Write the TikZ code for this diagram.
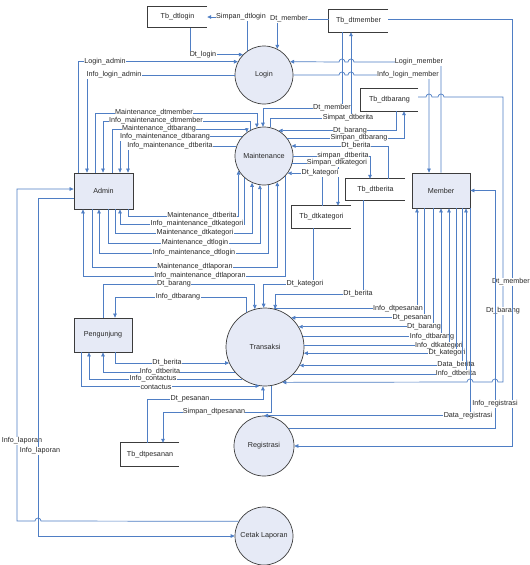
\documentclass[tikz,border=0pt]{standalone}
\usepackage{fontspec}
\setmainfont{Liberation Sans}
\usetikzlibrary{arrows.meta}
\definecolor{ln}{RGB}{79,126,196}
\definecolor{pf}{RGB}{230,234,246}
\definecolor{bd}{RGB}{60,60,60}
\definecolor{tx}{RGB}{40,40,40}
\newcommand{\lf}{\fontsize{7.2}{8}\selectfont}
\begin{document}
\begin{tikzpicture}[x=1pt,y=-1pt,
  flow/.style={draw=ln, line width=0.7pt, -{Triangle[length=4pt,width=3.6pt]}},
  lbl/.style={fill=white, inner sep=0.3pt, text=tx, font=\lf},
  proc/.style={circle, draw=bd, line width=0.7pt, fill=pf, minimum size=58pt, inner sep=0pt, text=tx, font=\lf},
  ent/.style={rectangle, draw=bd, line width=0.8pt, fill=pf, minimum width=59pt, minimum height=36pt, inner sep=0pt, text=tx, font=\lf},
  store/.style={rectangle, minimum width=59pt, minimum height=22pt, inner sep=0pt, text=tx, font=\lf},
  sline/.style={draw=bd, line width=0.8pt}]
\fill[white] (0,0) rectangle (530,565);
\useasboundingbox (0,0) rectangle (530,565);

% nodes
\node[store, minimum height=21pt] (TbL) at (177.5,17) {Tb\_dtlogin};
\node[store] (TbM) at (358.5,21) {Tb\_dtmember};
\node[proc] (Login) at (264,75) {Login};
\node[proc] (Maint) at (264,156) {Maintenance};
\node[ent] (Admin) at (103.5,191) {Admin};
\node[store, minimum width=57pt] (TbB) at (389.5,100) {Tb\_dtbarang};
\node[store, minimum height=21pt] (TbBe) at (375.5,189.5) {Tb\_dtberita};
\node[ent, minimum width=58pt, minimum height=35pt] (Member) at (441,190.5) {Member};
\node[store] (TbK) at (321.5,217) {Tb\_dtkategori};
\node[ent, minimum width=58pt, minimum height=34pt] (Peng) at (103,335) {Pengunjung};
\node[proc, minimum size=78pt] (Trans) at (265,347) {Transaksi};
\node[store, minimum width=58pt, minimum height=23pt] (TbP) at (150,454.5) {Tb\_dtpesanan};
\node[proc, minimum size=60pt] (Reg) at (264,446) {Registrasi};
\node[proc] (Cetak) at (264,536) {Cetak Laporan};

\foreach \s in {TbL,TbM,TbB,TbBe,TbK,TbP}
  \draw[sline] (\s.north east) -- (\s.north west) -- (\s.south west) -- (\s.south east);

% Login
\draw[flow] (Login.124) |- (TbL.east |- 0,17);
\node[lbl] at (241,17) {Simpan\_dtlogin};
\draw[flow] (TbL.south -| 190,0) |- (Login.136);
\node[lbl] at (203,55) {Dt\_login};
\draw[flow] (TbM.west |- 0,19) -| (Login.63);
\node[lbl] at (289,19) {Dt\_member};
\draw[flow] (Admin.north -| 78,0) |- (Login.153);
\node[lbl] at (105,62) {Login\_admin};
\draw[flow] (Login.west) -| (Admin.north -| 87,0);
\node[lbl] at (114,75) {Info\_login\_admin};
\draw[flow] (Member.north -| 441,0) -- (441,62) -- (354,62) arc[start angle=0,end angle=180,radius=3pt] -- (345,62) arc[start angle=0,end angle=180,radius=3pt] -- (Login.27);
\node[lbl] at (419,62) {Login\_member};
\draw[flow] (Login.east) -- (339,75) arc[start angle=180,end angle=0,radius=3pt] -- (348,75) arc[start angle=180,end angle=0,radius=3pt] -- (429,75) -- (Member.north -| 429,0);
\node[lbl] at (408,75) {Info\_login\_member};

% Tb_dtmember - Maintenance
\draw[flow] (TbM.south -| 342,0) -- (342,108) -| (Maint.92);
\node[lbl] at (332,108) {Dt\_member};
\draw[flow] (Maint.78) |- (351,118) -- (TbM.south -| 351,0);
\node[lbl] at (348,118) {Simpat\_dtberita};

% Tb_dtbarang - Maintenance
\draw[flow] (TbB.south -| 396,0) |- (Maint.60);
\node[lbl] at (350,131) {Dt\_barang};
\draw[flow] (Maint.38) -| (TbB.south -| 404,0);
\node[lbl] at (359,138) {Simpan\_dtbarang};

% Tb_dtberita - Maintenance
\draw[flow] (TbBe.north -| 388,0) |- (Maint.20);
\node[lbl] at (356,146) {Dt\_berita};
\draw[flow] (Maint.east) -| (TbBe.north -| 370,0);
\node[lbl] at (343,156) {simpan\_dtberita};

% Tb_dtkategori - Maintenance
\draw[flow] (Maint.-14) -| (TbK.north -| 338,0);
\node[lbl] at (337,163) {Simpan\_dtkategori};
\draw[flow] (TbK.north -| 322,0) |- (Maint.-36);
\node[lbl] at (320,173) {Dt\_kategori};

% Admin top - Maintenance
\draw[flow] (Admin.north -| 95,0) -- (95,113) -| (Maint.104);
\node[lbl] at (154,113) {Maintenance\_dtmember};
\draw[flow] (Maint.117) |- (103,121) -- (Admin.north -| 103,0);
\node[lbl] at (156,121) {Info\_maintenance\_dtmember};
\draw[flow] (Admin.north -| 112,0) -- (112,129) -| (Maint.126);
\node[lbl] at (159,129) {Maintenance\_dtbarang};
\draw[flow] (Maint.139) -| (Admin.north -| 120,0);
\node[lbl] at (165,137) {Info\_maintenance\_dtbarang};
\draw[flow] (Maint.160) -| (Admin.north -| 128,0);
\node[lbl] at (170,146) {Info\_maintenance\_dtberita};

% Admin bottom - Maintenance
\draw[flow] (Admin.south -| 128,0) -- (128,216) -| (Maint.210);
\node[lbl] at (202,216) {Maintenance\_dtberita};
\draw[flow] (Maint.229) |- (120,224) -- (Admin.south -| 120,0);
\node[lbl] at (197,224) {Info\_maintenance\_dtkategori};
\draw[flow] (Admin.south -| 115,0) -- (115,233) -| (Maint.246);
\node[lbl] at (195,233) {Maintenance\_dtkategori};
\draw[flow] (Admin.south -| 108,0) -- (108,243) -| (Maint.262);
\node[lbl] at (195,243) {Maintenance\_dtlogin};
\draw[flow] (Maint.278) |- (99,253) -- (Admin.south -| 99,0);
\node[lbl] at (194,253) {Info\_maintenance\_dtlogin};
\draw[flow] (Admin.south -| 92,0) -- (92,267) -| (Maint.297);
\node[lbl] at (195,267) {Maintenance\_dtlaporan};
\draw[flow] (Maint.316) |- (83,276) -- (Admin.south -| 83,0);
\node[lbl] at (200,276) {Info\_maintenance\_dtlaporan};

% Stores - Transaksi
\draw[flow] (TbK.south -| 313,0) -- (313,284) -| (Trans.92);
\node[lbl] at (305,284) {Dt\_kategori};
\draw[flow] (TbBe.south -| 363,0) -- (363,294) -| (Trans.75);
\node[lbl] at (358,294) {Dt\_berita};

% Pengunjung - Transaksi
\draw[flow] (Peng.north -| 103,0) -- (103,284) -| (Trans.105);
\node[lbl] at (174,284) {Dt\_barang};
\draw[flow] (Trans.118) |- (115,297) -- (Peng.north -| 115,0);
\node[lbl] at (178,297) {Info\_dtbarang};
\draw[flow] (Peng.south -| 115,0) |- (Trans.204);
\node[lbl] at (167,363) {Dt\_berita};
\draw[flow] (Trans.220) -| (Peng.south -| 103,0);
\node[lbl] at (160,372) {Info\_dtberita};
\draw[flow] (Trans.235) -| (Peng.south -| 89,0);
\node[lbl] at (153,379) {Info\_contactus};
\draw[flow] (Peng.south -| 81,0) |- (Trans.262);
\node[lbl] at (156,387) {contactus};

% Member - Transaksi
\draw[flow] (Trans.77) -| (Member.south -| 417,0);
\node[lbl] at (398,309) {Info\_dtpesanan};
\draw[flow] (Member.south -| 424,0) |- (Trans.48);
\node[lbl] at (412,318) {Dt\_pesanan};
\draw[flow] (Member.south -| 433,0) |- (Trans.31);
\node[lbl] at (424,327) {Dt\_barang};
\draw[flow] (Trans.15) -| (Member.south -| 441,0);
\node[lbl] at (432,337) {Info\_dtbarang};
\draw[flow] (Trans.2) -| (Member.south -| 449,0);
\node[lbl] at (439,346) {Info\_dtkategori};
\draw[flow] (Member.south -| 456,0) |- (Trans.-9);
\node[lbl] at (447,353) {Dt\_kategori};
\draw[flow] (Member.south -| 462,0) |- (Trans.-28);
\node[lbl] at (456,365) {Data\_berita};
\draw[flow] (Trans.-44) -| (Member.south -| 466,0);
\node[lbl] at (456,374) {Info\_dtberita};

% Tb_dtbarang - Transaksi
\draw[flow] (TbB.east |- 0,97) -- (426,97) arc[start angle=180,end angle=0,radius=3pt] -- (438,97) arc[start angle=180,end angle=0,radius=3pt] -- (503,97) -- (503,382) -- (498,382) arc[start angle=0,end angle=180,radius=3pt] -- (473,382) arc[start angle=0,end angle=180,radius=3pt] -- (Trans.-64);
\node[lbl] at (503,311) {Dt\_barang};

% Registrasi
\draw[flow] (TbM.east |- 0,19) -| (512,446) -- (Reg.east);
\node[lbl] at (511,282) {Dt\_member};
\draw[flow] (Reg.35) -| (495,190.5) -- (Member.east);
\node[lbl] at (495,404) {Info\_registrasi};
\draw[flow] (Member.south -| 470,0) |- (Reg.north);
\node[lbl] at (468,416) {Data\_registrasi};

% Tb_dtpesanan
\draw[flow] (TbP.north -| 147,0) -- (147,399) -| (Trans.267);
\node[lbl] at (190,399) {Dt\_pesanan};
\draw[flow] (Trans.279) |- (163,412) -- (TbP.north -| 163,0);
\node[lbl] at (214,412) {Simpan\_dtpesanan};

% Cetak Laporan
\draw[flow] (Cetak.150) -- (41,521) arc[start angle=0,end angle=180,radius=3pt] -- (17,521) |- (Admin.west |- 0,189);
\node[lbl] at (22,441) {Info\_laporan};
\draw[flow] (Admin.west |- 0,198) -| (38,536) -- (Cetak.west);
\node[lbl] at (40,451) {Info\_laporan};
\end{tikzpicture}
\end{document}
